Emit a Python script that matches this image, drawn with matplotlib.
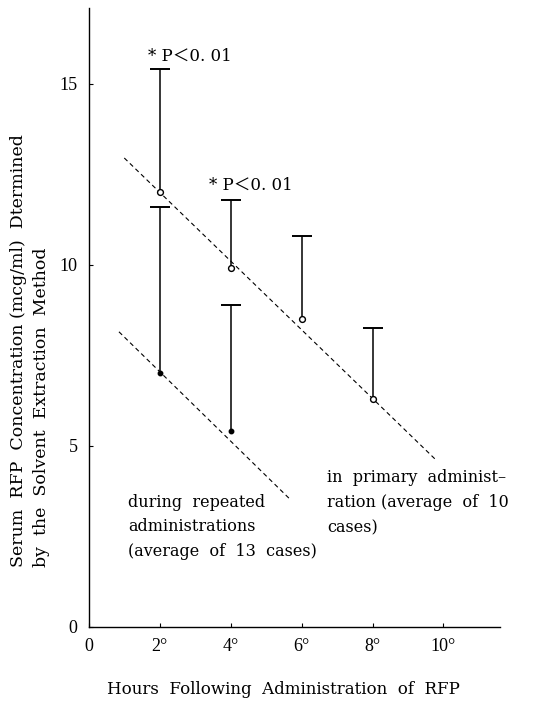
import matplotlib
matplotlib.use("Agg")
import matplotlib.pyplot as plt
import numpy as np

plt.rcParams['font.family'] = ['Liberation Serif', 'Noto Sans CJK JP', 'DejaVu Sans']
WIDE = ['DejaVu Serif', 'Noto Sans CJK JP', 'DejaVu Sans']

# primary administration (open circles), mean and upper SD
hours_primary = [2, 4, 6, 8]
mean_primary = [12.0, 9.9, 8.5, 6.3]
upper_primary = [15.4, 11.8, 10.8, 8.25]

# repeated administrations (filled dots)
hours_repeated = [2, 4]
mean_repeated = [7.0, 5.4]
upper_repeated = [11.6, 8.9]

# dashed regression lines (x ends, y ends)
line_primary_x = [1.0, 9.8]
line_primary_y = [12.95, 4.6]
line_repeated_x = [0.85, 5.7]
line_repeated_y = [8.15, 3.5]

xticks = [0, 2, 4, 6, 8, 10]
xtick_labels = ['0', '2°', '4°', '6°', '8°', '10°']
yticks = [0, 5, 10, 15]

fig = plt.figure(figsize=(5.35, 7.02), dpi=100)
ax = fig.add_axes([0.166, 0.107, 0.769, 0.882])

ax.plot(line_primary_x, line_primary_y, ls=(0, (4, 3)), color='black', lw=0.8)
ax.plot(line_repeated_x, line_repeated_y, ls=(0, (4, 3)), color='black', lw=0.8)


def draw_bars(xs, means, uppers, filled):
    # vertical line from mean up to the SD, cap only on top
    ax.vlines(xs, means, uppers, color='black', lw=1.1)
    ax.plot(xs, uppers, ls='none', marker='_', ms=15, mew=1.4, color='black')
    if filled:
        ax.plot(xs, means, 'o', ms=3.2, mfc='black', mec='black', zorder=5)
    else:
        ax.plot(xs, means, 'o', ms=4.2, mfc='white', mec='black', mew=1.0, zorder=5)


draw_bars(hours_primary, mean_primary, upper_primary, filled=False)
draw_bars(hours_repeated, mean_repeated, upper_repeated, filled=True)

ax.text(1.66, 15.75, '* P＜0. 01', fontsize=12, family=WIDE, va='center')
ax.text(3.4, 12.2, '* P＜0. 01', fontsize=12, family=WIDE, va='center')

ax.text(1.1, 2.76, 'during  repeated\nadministrations\n(average  of  13  cases)',
        fontsize=11.5, family=WIDE, linespacing=1.6, va='center')
ax.text(6.71, 3.43, 'in  primary  administ–\nration (average  of  10\ncases)',
        fontsize=11.5, family=WIDE, linespacing=1.6, va='center')

ax.set_xlim(0, 11.6)
ax.set_ylim(0, 17.1)
ax.set_xticks(xticks)
ax.set_xticklabels(xtick_labels, fontsize=13)
ax.set_yticks(yticks)
ax.set_yticklabels([str(v) for v in yticks], fontsize=13)
ax.tick_params(axis='both', direction='in', length=3, width=0.8, pad=8)
ax.spines['top'].set_visible(False)
ax.spines['right'].set_visible(False)
ax.spines['left'].set_linewidth(1.0)
ax.spines['bottom'].set_linewidth(1.0)

fig.text(0.53, 0.018, 'Hours  Following  Administration  of  RFP',
         fontsize=12, family=WIDE, ha='center', va='center')
fig.text(0.056, 0.192,
         'Serum  RFP  Concentration (mcg/ml)  Dtermined\nby  the  Solvent  Extraction  Method',
         fontsize=12.5, family=WIDE, rotation=90, ha='center', va='bottom',
         multialignment='left', linespacing=1.5)

fig.savefig('out.png', dpi=100)
